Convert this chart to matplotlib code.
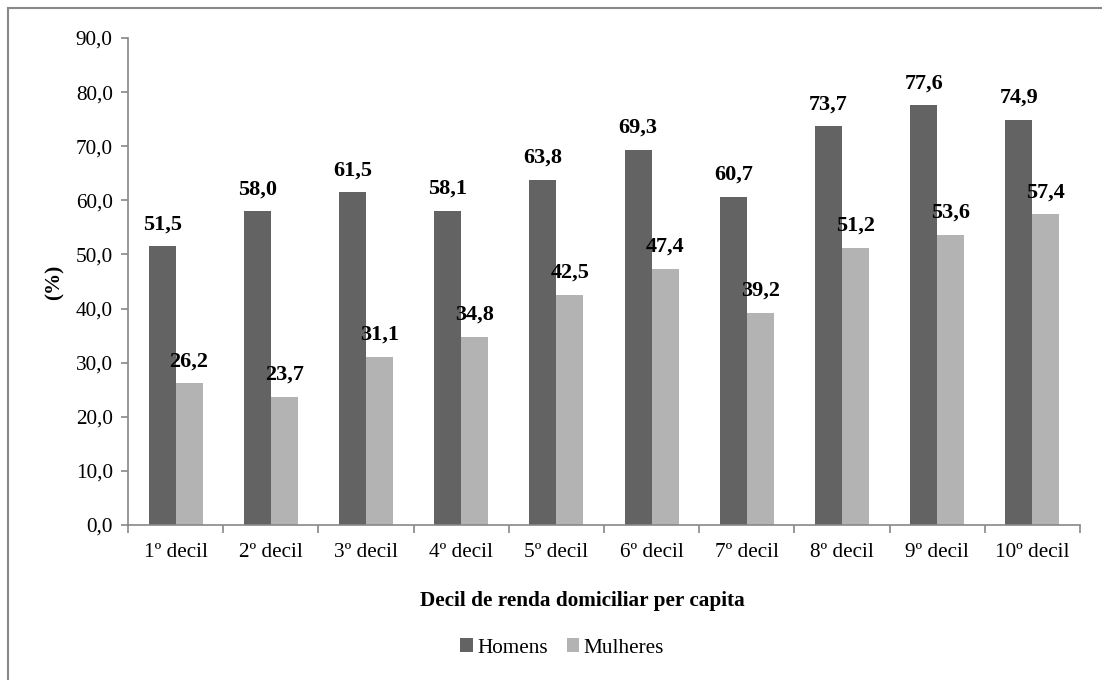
import matplotlib
matplotlib.use("Agg")
import matplotlib.pyplot as plt
from matplotlib.patches import Rectangle
import numpy as np

categories = ["1º decil", "2º decil", "3º decil", "4º decil", "5º decil",
              "6º decil", "7º decil", "8º decil", "9º decil", "10º decil"]
homens = [51.5, 58.0, 61.5, 58.1, 63.8, 69.3, 60.7, 73.7, 77.6, 74.9]
mulheres = [26.2, 23.7, 31.1, 34.8, 42.5, 47.4, 39.2, 51.2, 53.6, 57.4]
yticks = [0, 10, 20, 30, 40, 50, 60, 70, 80, 90]

plt.rcParams['font.family'] = ['Liberation Serif', 'DejaVu Serif']

W, H = 1102, 680
fig = plt.figure(figsize=(W/100, H/100), dpi=100)
ax = fig.add_axes([128/W, (H-525)/H, (1080-128)/W, (525-38)/H])

fs = 15.3
fs_lab = 16

x = np.arange(len(categories))
bw = 0.284
c_h = "#636363"
c_m = "#b3b3b3"
b1 = ax.bar(x - bw/2, homens, bw, color=c_h, label="Homens")
b2 = ax.bar(x + bw/2, mulheres, bw, color=c_m, label="Mulheres")

for xi, v in zip(x, homens):
    ax.annotate(f"{v:.1f}".replace(".", ","), (xi - bw/2, v), xytext=(0, 12),
                textcoords="offset pixels", ha="center", va="bottom",
                fontsize=fs_lab, fontweight="bold")
for xi, v in zip(x, mulheres):
    ax.annotate(f"{v:.1f}".replace(".", ","), (xi + bw/2, v), xytext=(0, 12),
                textcoords="offset pixels", ha="center", va="bottom",
                fontsize=fs_lab, fontweight="bold")

ax.set_xlim(-0.5, len(categories) - 0.5)
ax.set_ylim(0, 90)
ax.set_yticks(yticks)
ax.set_yticklabels([f"{t:.1f}".replace(".", ",") for t in yticks], fontsize=fs)
ax.set_xticks(x)
ax.set_xticklabels(categories, fontsize=fs)
ax.tick_params(axis="x", length=0, pad=13)
ax.set_xticks(np.arange(len(categories) + 1) - 0.5, minor=True)
ax.tick_params(axis="x", which="minor", length=6, color="#888888", width=1.2)
ax.tick_params(axis="y", length=5, color="#888888", width=1.2, pad=6)

for s in ["top", "right"]:
    ax.spines[s].set_visible(False)
for s in ["left", "bottom"]:
    ax.spines[s].set_color("#888888")
    ax.spines[s].set_linewidth(1.2)

fig.text(55/W, 1 - 282/H, "(%)", rotation=90, ha="center", va="center",
         fontsize=fs, fontweight="bold")
fig.text(582/W, 1 - 601/H, "Decil de renda domiciliar per capita",
         ha="center", va="center", fontsize=fs, fontweight="bold")

fig.legend(handles=[b1, b2], labels=["Homens", "Mulheres"], loc="center",
           bbox_to_anchor=(562/W, 1 - 648/H), ncol=2, frameon=False,
           fontsize=fs, handlelength=0.6, handleheight=0.6, handletextpad=0.2,
           columnspacing=0.9)

fig.patches.append(Rectangle((8/W, -0.1), 1.2, (1 - 8/H) + 0.1,
                             transform=fig.transFigure, fill=False,
                             edgecolor="#888888", linewidth=1.5))

fig.savefig("out.png", dpi=100)
